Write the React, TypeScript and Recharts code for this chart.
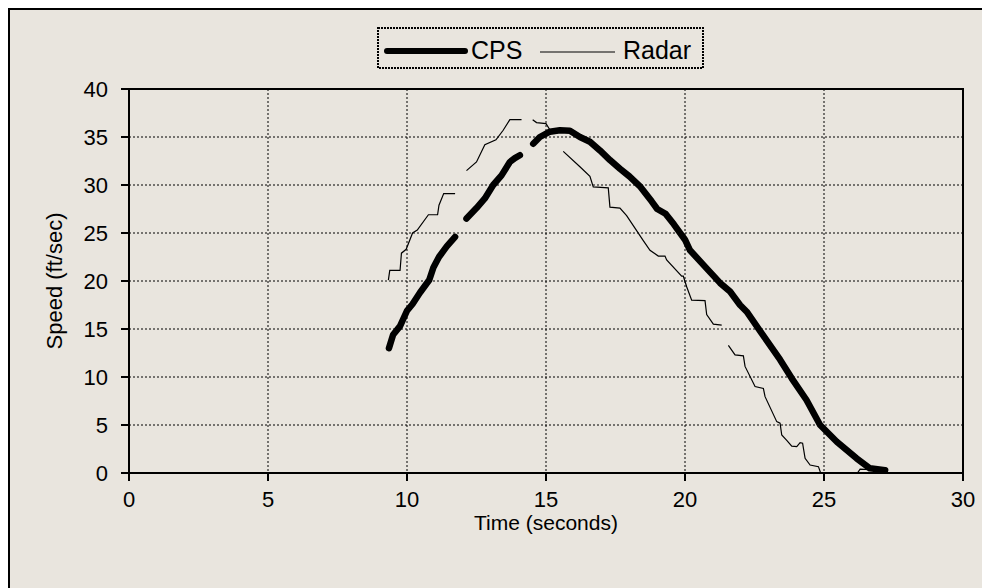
import React from 'react';
import { LineChart, Line, XAxis, YAxis, CartesianGrid, ReferenceArea } from 'recharts';

// CPS speed trace (null marks a gap in the record)
const cpsTime = [
  9.35, 9.5, 9.75, 10.0, 10.2, 10.47, 10.8, 10.95, 11.15, 11.43, 11.73,
  11.9,
  12.14, 12.5, 12.8, 13.1, 13.4, 13.7, 13.88, 14.06,
  14.3,
  14.54, 14.78, 15.14, 15.5, 15.86, 16.22, 16.58, 16.94, 17.3, 17.66, 18.0, 18.4, 18.8, 19.0, 19.3, 19.6, 20.0,
  20.18, 20.72, 21.26, 21.62, 21.98, 22.22, 22.76, 23.42, 23.84, 24.37, 24.86, 25.46, 26.17, 26.65, 27.2,
];
const cpsSpeed = [
  13.0, 14.4, 15.3, 16.9, 17.6, 18.8, 20.1, 21.4, 22.5, 23.6, 24.6,
  null,
  26.5, 27.6, 28.6, 30.0, 31.0, 32.4, 32.8, 33.1,
  null,
  34.3, 35.0, 35.55, 35.7, 35.65, 35.0, 34.5, 33.6, 32.6, 31.7, 30.9, 29.8, 28.3, 27.5, 27.0, 25.9, 24.3,
  23.2, 21.5, 19.8, 18.9, 17.5, 16.8, 14.55, 11.8, 9.86, 7.6, 5.0, 3.26, 1.53, 0.49, 0.3,
];

// Radar speed trace (null marks a gap in the record)
const radarTime = [
  9.33, 9.38, 9.75, 9.8, 9.97, 10.2, 10.37, 10.77, 11.1, 11.15, 11.32, 11.73,
  11.9,
  12.14, 12.5, 12.8, 13.2, 13.46, 13.7, 14.12,
  14.3,
  14.52, 14.66, 15.0, 15.15,
  15.4,
  15.62, 16.22, 16.58, 16.7, 17.24, 17.3, 17.66, 17.9, 18.2, 18.5, 18.74, 19.04, 19.28, 19.34, 19.88, 19.94,
  20.06, 20.24, 20.72, 20.78, 21.02, 21.32,
  21.45,
  21.56, 21.8, 22.1, 22.16, 22.52, 22.82, 22.88, 23.3, 23.42, 23.48, 23.66, 23.84, 24.02, 24.14, 24.23,
  24.32, 24.5, 24.8, 24.88,
  25.5,
  26.2, 26.3, 27.0,
];
const radarSpeed = [
  20.1, 21.1, 21.1, 22.9, 23.3, 25.0, 25.3, 26.9, 26.9, 27.9, 29.1, 29.1,
  null,
  31.5, 32.4, 34.2, 34.7, 35.7, 36.8, 36.8,
  null,
  36.8, 36.5, 36.4, 35.7,
  null,
  33.5, 31.9, 30.9, 29.8, 29.7, 27.7, 27.6, 26.8, 25.5, 24.2, 23.2, 22.6, 22.6, 22.2, 20.5, 20.5,
  19.4, 18.0, 17.95, 16.5, 15.5, 15.4,
  null,
  13.3, 12.3, 12.2, 11.1, 9.0, 8.8, 7.95, 5.35, 5.2, 3.96, 3.4, 2.8, 2.74, 3.16, 3.1,
  1.53, 0.83, 0.66, 0.0,
  null,
  0.0, 0.4, 0.3,
];

const xTicks = [0, 5, 10, 15, 20, 25, 30];
const yTicks = [0, 5, 10, 15, 20, 25, 30, 35, 40];

const seriesNames = ['CPS', 'Radar'];

const cpsData = cpsTime.map((t, i) => ({ t, v: cpsSpeed[i] }));
const radarData = radarTime.map((t, i) => ({ t, v: radarSpeed[i] }));

const FONT = '"Liberation Sans", Arial, sans-serif';
const BG = '#E9E5DE';

const YTitle = (props: any) => {
  const vb = props.viewBox || {};
  const cx = vb.x - 15;
  const cy = vb.y + vb.height / 2;
  return (
    <text x={cx} y={cy} transform={`rotate(-90, ${cx}, ${cy})`} textAnchor="middle" dominantBaseline="central"
      fontFamily={FONT} fontSize={22} fill="#000">Speed (ft/sec)</text>
  );
};

const XTitle = (props: any) => {
  const vb = props.viewBox || {};
  const cx = vb.x + vb.width / 2;
  const cy = vb.y + 49;
  return (
    <text x={cx} y={cy} textAnchor="middle" dominantBaseline="central"
      fontFamily={FONT} fontSize={21} fill="#000">Time (seconds)</text>
  );
};

export default function App() {
  return (
    <div style={{ position: 'relative', width: 1000, height: 600, background: BG, borderTop: '2px solid #000', borderLeft: '2px solid #000', fontFamily: FONT }}>
      <LineChart width={980} height={578} margin={{ top: 79, right: 27, bottom: 55, left: 59 }}>
        <CartesianGrid stroke="#000" strokeWidth={1} strokeDasharray="2 2" />
        <XAxis type="number" dataKey="t" domain={[0, 30]} ticks={xTicks} interval={0} allowDataOverflow
          height={60} tickSize={8} tickMargin={10}
          axisLine={{ stroke: '#000', strokeWidth: 2 }} tickLine={{ stroke: '#000', strokeWidth: 2 }}
          tick={{ fill: '#000', fontSize: 22, fontFamily: FONT }}
          label={<XTitle />} />
        <YAxis type="number" domain={[0, 40]} ticks={yTicks} interval={0} allowDataOverflow
          width={60} tickSize={8} tickMargin={13}
          axisLine={{ stroke: '#000', strokeWidth: 2 }} tickLine={{ stroke: '#000', strokeWidth: 2 }}
          tick={{ fill: '#000', fontSize: 22, fontFamily: FONT }}
          label={<YTitle />} />
        <ReferenceArea x1={0} x2={30} y1={0} y2={40} fill="none" fillOpacity={0} stroke="#000" strokeWidth={2} strokeOpacity={1} />
        <Line data={radarData} dataKey="v" name={seriesNames[1]} type="linear" stroke="#000" strokeWidth={1.2}
          dot={false} activeDot={false} connectNulls={false} isAnimationActive={false} />
        <Line data={cpsData} dataKey="v" name={seriesNames[0]} type="linear" stroke="#000" strokeWidth={6.5}
          strokeLinecap="round" strokeLinejoin="round"
          dot={false} activeDot={false} connectNulls={false} isAnimationActive={false} />
      </LineChart>
      <svg width={327} height={42} style={{ position: 'absolute', left: 367, top: 17 }}>
        <rect x={1} y={1} width={325} height={40} fill={BG} stroke="#000" strokeWidth={2} strokeDasharray="2 1" />
        <line x1={10} y1={24} x2={88} y2={24} stroke="#000" strokeWidth={6} strokeLinecap="round" />
        <text x={94} y={23} dominantBaseline="central" fontFamily={FONT} fontSize={25} fill="#000">{seriesNames[0]}</text>
        <line x1={163} y1={25} x2={238} y2={25} stroke="#000" strokeWidth={1.2} />
        <text x={246} y={23} dominantBaseline="central" fontFamily={FONT} fontSize={25} fill="#000">{seriesNames[1]}</text>
      </svg>
    </div>
  );
}
